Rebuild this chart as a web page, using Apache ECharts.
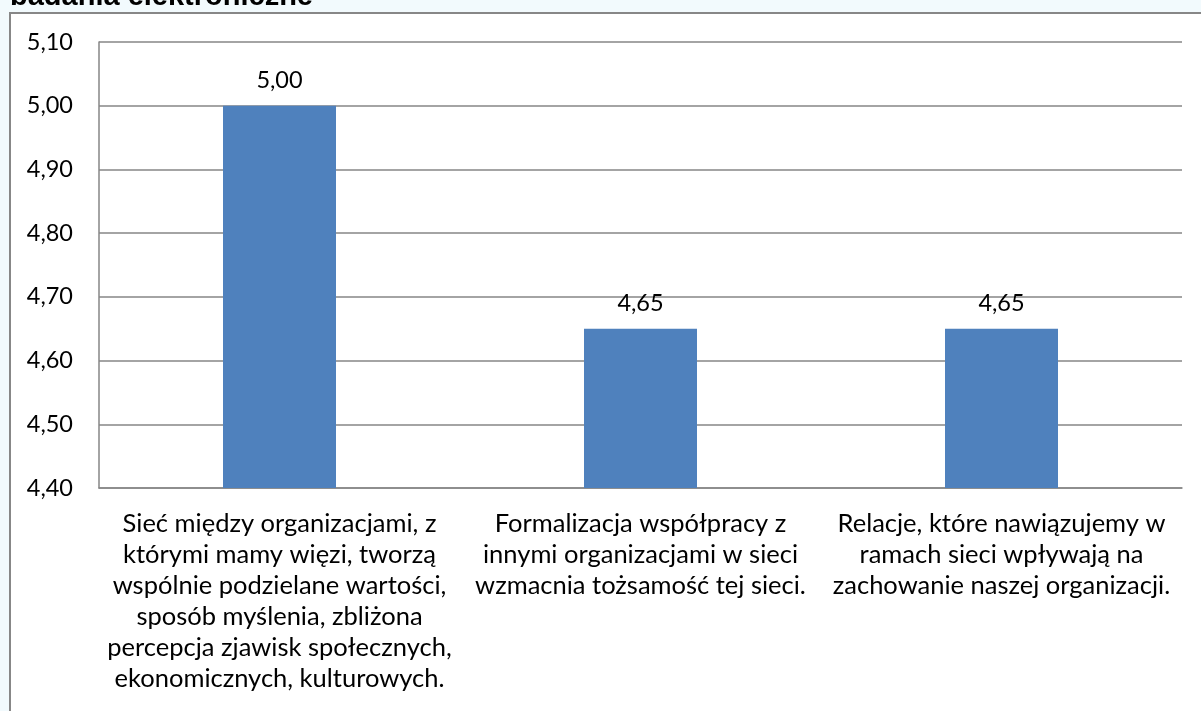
<!DOCTYPE html>
<html>
<head>
<meta charset="utf-8">
<script src="https://cdn.jsdelivr.net/npm/echarts@6/dist/echarts.min.js"></script>
<style>
  html, body { margin: 0; padding: 0; background: #f2fafd; }
  #chart { width: 1201px; height: 711px; }
</style>
</head>
<body>
<div id="chart"></div>
<script>
// Category names (line breaks as they wrap under each bar)
const categories = [
  'Sieć między organizacjami, z\nktórymi mamy więzi, tworzą\nwspólnie podzielane wartości,\nsposób myślenia, zbliżona\npercepcja zjawisk społecznych,\nekonomicznych, kulturowych.',
  'Formalizacja współpracy z\ninnymi organizacjami w sieci\nwzmacnia tożsamość tej sieci.',
  'Relacje, które nawiązujemy w\nramach sieci wpływają na\nzachowanie naszej organizacji.'
];
// Mean scores
const values = [5.00, 4.65, 4.65];
// Value axis range
const axisMin = 4.40;
const axisMax = 5.10;
const axisStep = 0.10;
const titleText = 'badania elektroniczne';

const fmt = v => v.toFixed(2).replace('.', ',');
const FONT = 'Lato, "Noto Sans", sans-serif';

const chart = echarts.init(document.getElementById('chart'), null, { renderer: 'canvas' });
chart.setOption({
  backgroundColor: '#f2fafd',
  animation: false,
  graphic: [
    {
      type: 'rect', z: -10,
      shape: { x: 10, y: 13, width: 1400, height: 900 },
      style: { fill: '#ffffff', stroke: '#878787', lineWidth: 2 }
    },
    {
      type: 'text', left: 10, top: -18,
      style: {
        text: titleText,
        font: 'bold 29px "Liberation Sans", Arial, sans-serif',
        fill: '#000000'
      }
    }
  ],
  grid: { left: 99, right: 19, top: 42, bottom: 223, containLabel: false },
  xAxis: {
    type: 'category',
    data: categories,
    axisLine: { show: true, lineStyle: { color: '#868686', width: 1.5 } },
    axisTick: { show: false },
    axisLabel: {
      interval: 0,
      margin: 20,
      fontFamily: FONT,
      fontSize: 25.5,
      color: '#000000',
      lineHeight: 31,
      align: 'center'
    }
  },
  yAxis: {
    type: 'value',
    min: axisMin,
    max: axisMax,
    interval: axisStep,
    axisLine: { show: true, lineStyle: { color: '#868686', width: 1.5 } },
    axisTick: { show: false },
    splitLine: { show: true, lineStyle: { color: '#868686', width: 1.5 } },
    axisLabel: {
      margin: 26,
      fontFamily: FONT,
      fontSize: 23.5,
      color: '#000000',
      formatter: v => fmt(v)
    }
  },
  series: [{
    type: 'bar',
    data: values,
    barWidth: '31.3%',
    itemStyle: { color: '#4f81bd' },
    label: {
      show: true,
      position: 'top',
      distance: 13,
      fontFamily: FONT,
      fontSize: 23.5,
      color: '#000000',
      formatter: p => fmt(p.value)
    }
  }]
});
</script>
</body>
</html>
